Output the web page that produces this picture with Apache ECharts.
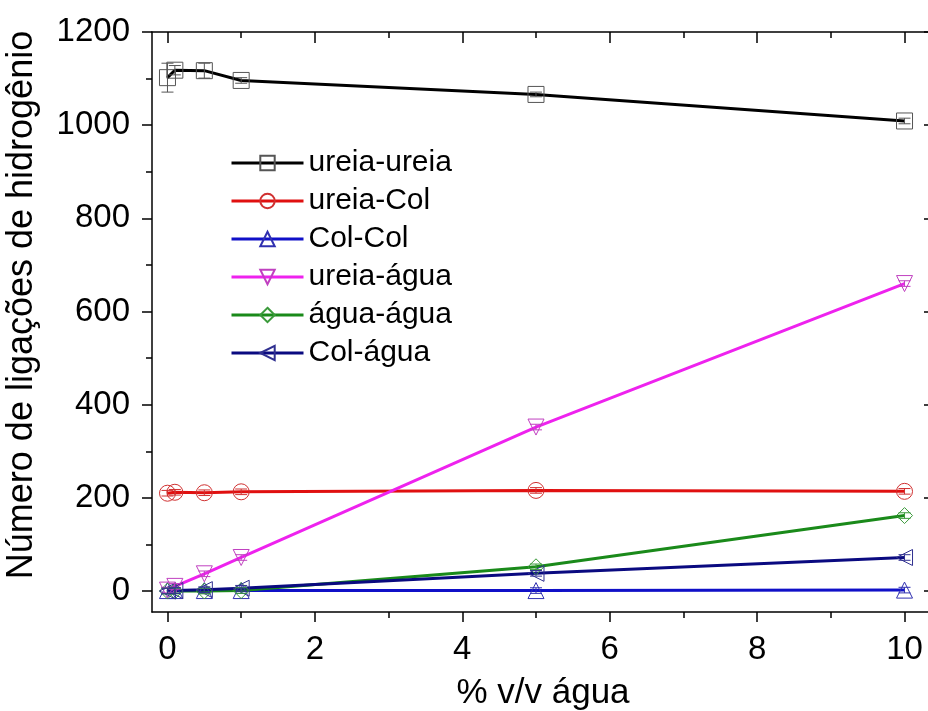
<!DOCTYPE html>
<html>
<head>
<meta charset="utf-8">
<script src="https://cdn.jsdelivr.net/npm/echarts@6/dist/echarts.min.js"></script>
<style>
  html, body { margin: 0; padding: 0; background: #fff; }
  #chart { width: 928px; height: 711px; }
</style>
</head>
<body>
<div id="chart"></div>
<script>
var xVals = [0, 0.1, 0.5, 1, 5, 10];
var names = ['ureia-ureia', 'ureia-Col', 'Col-Col', 'ureia-água', 'água-água', 'Col-água'];
var ureiaUreia = [1102, 1118, 1117, 1096, 1066, 1009];
var ureiaCol   = [210, 212, 211, 213, 216, 214];
var colCol     = [1, 1, 1, 1, 1, 2];
var ureiaAgua  = [2, 10, 37, 72, 352, 660];
var aguaAgua   = [0, 0, 0, 1, 52, 162];
var colAgua    = [0, 1, 3, 6, 38, 72];
var errUreiaUreia = [31, 10, 16, 6, 5, 6];
var errSmall      = [6, 6, 6, 6, 6, 6];
var xMajor = [0, 2, 4, 6, 8, 10];
var xMinor = [1, 3, 5, 7, 9];
var yMajor = [0, 200, 400, 600, 800, 1000, 1200];
var yMinor = [100, 300, 500, 700, 900, 1100];

var lineColors   = ['#000000', '#e01010', '#1010c8', '#ee22ee', '#1a8a1a', '#0a0a80'];
var markerColors = ['#555555', '#d03030', '#3030b0', '#c040c0', '#3a9a3a', '#303090'];
var symbols = ['rect', 'circle', 'triangle',
  'path://M0,0 L10,0 L5,9 Z',
  'diamond',
  'path://M0,5 L9,0 L9,10 Z'];
var allY = [ureiaUreia, ureiaCol, colCol, ureiaAgua, aguaAgua, colAgua];
var allErr = [errUreiaUreia, errSmall, errSmall, errSmall, errSmall, errSmall];

var FONT = 'Liberation Sans, Arial, sans-serif';
var X_MIN = -0.21, X_MAX = 10.4, Y_MIN = -45, Y_MAX = 1200;
var chart = echarts.init(document.getElementById('chart'));

function pairs(ys) {
  return xVals.map(function (x, i) { return [x, ys[i]]; });
}
function triples(ys, es) {
  return xVals.map(function (x, i) { return [x, ys[i], es[i]]; });
}

function errorRender(color) {
  return function (params, api) {
    var x = api.value(0), y = api.value(1), e = api.value(2);
    var top = api.coord([x, y + e]);
    var bot = api.coord([x, y - e]);
    var w = 6;
    var st = { stroke: color, lineWidth: 1 };
    return {
      type: 'group',
      children: [
        { type: 'line', shape: { x1: top[0], y1: top[1], x2: bot[0], y2: bot[1] }, style: st },
        { type: 'line', shape: { x1: top[0] - w, y1: top[1], x2: top[0] + w, y2: top[1] }, style: st },
        { type: 'line', shape: { x1: bot[0] - w, y1: bot[1], x2: bot[0] + w, y2: bot[1] }, style: st }
      ]
    };
  };
}

var series = [];
names.forEach(function (n, i) {
  series.push({
    name: n,
    type: 'line',
    data: pairs(allY[i]),
    symbol: symbols[i],
    symbolSize: 16,
    showAllSymbol: true,
    lineStyle: { color: lineColors[i], width: 3 },
    itemStyle: { color: 'rgba(255,255,255,0)', borderColor: markerColors[i], borderWidth: 1 },
    emphasis: { disabled: true },
    animation: false,
    z: 3
  });
  series.push({
    name: n + ' erro',
    type: 'custom',
    data: triples(allY[i], allErr[i]),
    encode: { x: 0, y: 1 },
    renderItem: errorRender(markerColors[i]),
    animation: false,
    silent: true,
    z: 4
  });
});

var tickStyle = { color: '#000', width: 1.5 };
var lineOn = { show: true, onZero: false, lineStyle: { color: '#000', width: 1.5 } };
var lineOff = { show: false, onZero: false };
var box = { left: 152, top: 32, width: 782, height: 580, containLabel: false, outerBoundsMode: 'none' };

function xAx(gi, pos, vals, len, inside, showLine, extra) {
  var a = {
    type: 'value', gridIndex: gi, position: pos, min: X_MIN, max: X_MAX,
    axisLine: showLine ? lineOn : lineOff,
    splitLine: { show: false },
    axisTick: { show: true, inside: inside, customValues: vals, length: len, lineStyle: tickStyle },
    axisLabel: { show: false }
  };
  return Object.assign(a, extra || {});
}
function yAx(gi, pos, vals, len, inside, showLine, extra) {
  var a = {
    type: 'value', gridIndex: gi, position: pos, min: Y_MIN, max: Y_MAX,
    axisLine: showLine ? lineOn : lineOff,
    splitLine: { show: false },
    axisTick: { show: true, inside: inside, customValues: vals, length: len, lineStyle: tickStyle },
    axisLabel: { show: false }
  };
  return Object.assign(a, extra || {});
}

var option = {
  backgroundColor: '#fff',
  grid: [box, box, box, box],
  legend: {
    data: names,
    orient: 'vertical',
    left: 225,
    top: 143,
    itemWidth: 72,
    itemHeight: 18,
    itemGap: 8,
    lineStyle: { width: 3 },
    textStyle: { fontFamily: FONT, fontSize: 30, color: '#000' }
  },
  xAxis: [
    xAx(0, 'bottom', xMajor, 10, false, true, {
      axisLabel: { customValues: xMajor, margin: 21, fontFamily: FONT, fontSize: 33, color: '#000' },
      name: '% v/v água', nameLocation: 'middle', nameGap: 64,
      nameTextStyle: { fontFamily: FONT, fontSize: 35, color: '#000' }
    }),
    xAx(1, 'bottom', xMinor, 6, false, false),
    xAx(2, 'top', xMajor, 11, true, true),
    xAx(3, 'top', xMinor, 6, true, false)
  ],
  yAxis: [
    yAx(0, 'left', yMajor, 10, false, true, {
      axisLabel: {
        customValues: yMajor, margin: 22, fontFamily: FONT, fontSize: 33, color: '#000',
        formatter: function (v) { return String(v); }
      },
      name: 'Número de ligações de hidrogênio', nameLocation: 'middle', nameGap: 112, nameRotate: 90,
      nameTextStyle: { fontFamily: FONT, fontSize: 36, color: '#000', padding: [0, 0, 0, 34] }
    }),
    yAx(1, 'left', yMinor, 6, false, false),
    yAx(2, 'right', yMajor, 10, true, true),
    yAx(3, 'right', yMinor, 6, true, false)
  ],
  series: series
};

chart.setOption(option);
</script>
</body>
</html>
